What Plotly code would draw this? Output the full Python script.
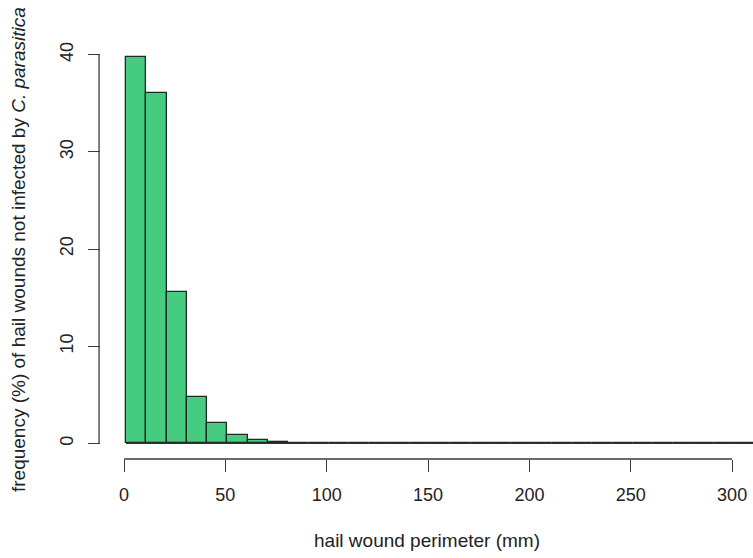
import plotly.graph_objects as go

# Histogram data (bin width 10 mm, starting at 1 mm)
bin_start = 1
bin_width = 10
n_bins = 31
freq_pct = [39.8, 36.1, 15.6, 4.75, 2.1, 0.9, 0.33, 0.17, 0.06, 0.04, 0.03] + [0.0] * 20

x_ticks = [0, 50, 100, 150, 200, 250, 300]
y_ticks = [0, 10, 20, 30, 40]

edges = [bin_start + i * bin_width for i in range(n_bins + 1)]
centers = [(edges[i] + edges[i + 1]) / 2 for i in range(n_bins)]

FONT = "Liberation Sans, Arial, sans-serif"
AX = "#3a3a3a"

fig = go.Figure()
fig.add_trace(go.Bar(
    x=centers, y=freq_pct, width=bin_width,
    marker=dict(color="#45CC80", line=dict(color="#1f2a22", width=1.3)),
    hoverinfo="x+y", showlegend=False,
))
# zero-height bins drawn as baseline (like R's hist)
fig.add_trace(go.Scatter(
    x=[edges[0], edges[-1]], y=[0, 0], mode="lines",
    line=dict(color="#333333", width=1.1), showlegend=False, hoverinfo="skip",
))

fig.update_layout(
    width=753, height=558,
    margin=dict(l=101, r=0, t=41, b=99, autoexpand=False),
    plot_bgcolor="white", paper_bgcolor="white",
    bargap=0,
    font=dict(family=FONT, size=18, color="#222"),
    xaxis=dict(
        range=[-11.35, 310.3], tickvals=x_ticks, ticktext=[str(v) for v in x_ticks],
        showgrid=False, zeroline=False, showline=False,
        ticks="outside", ticklen=12, tickwidth=1.3, tickcolor=AX,
        ticklabelstandoff=7, tickfont=dict(size=18),
    ),
    yaxis=dict(
        range=[-1.6, 41.4], tickvals=y_ticks, ticktext=[str(v) for v in y_ticks],
        showgrid=False, zeroline=False, showline=False,
        ticks="outside", ticklen=12, tickwidth=1.3, tickcolor=AX,
        tickangle=-90, ticklabelstandoff=8, tickfont=dict(size=18),
    ),
    shapes=[
        dict(type="line", xref="x", yref="paper", x0=min(x_ticks), x1=max(x_ticks),
             y0=0, y1=0, line=dict(color=AX, width=1.3)),
        dict(type="line", xref="paper", yref="y", x0=-0.003, x1=-0.003,
             y0=min(y_ticks), y1=max(y_ticks), line=dict(color=AX, width=1.3)),
    ],
    annotations=[
        dict(text="hail wound perimeter (mm)", xref="paper", yref="paper",
             x=0.5, y=0, yshift=-81, showarrow=False, xanchor="center", yanchor="middle",
             font=dict(size=19)),
        dict(text="frequency (%) of hail wounds not infected by <i>C. parasitica</i>",
             xref="paper", yref="paper", x=0, y=0.5, xshift=-83, textangle=-90,
             showarrow=False, xanchor="center", yanchor="middle", font=dict(size=19)),
    ],
)

fig.write_html("out.html", config={"displayModeBar": False},
               post_script="document.body.style.margin='0';")
